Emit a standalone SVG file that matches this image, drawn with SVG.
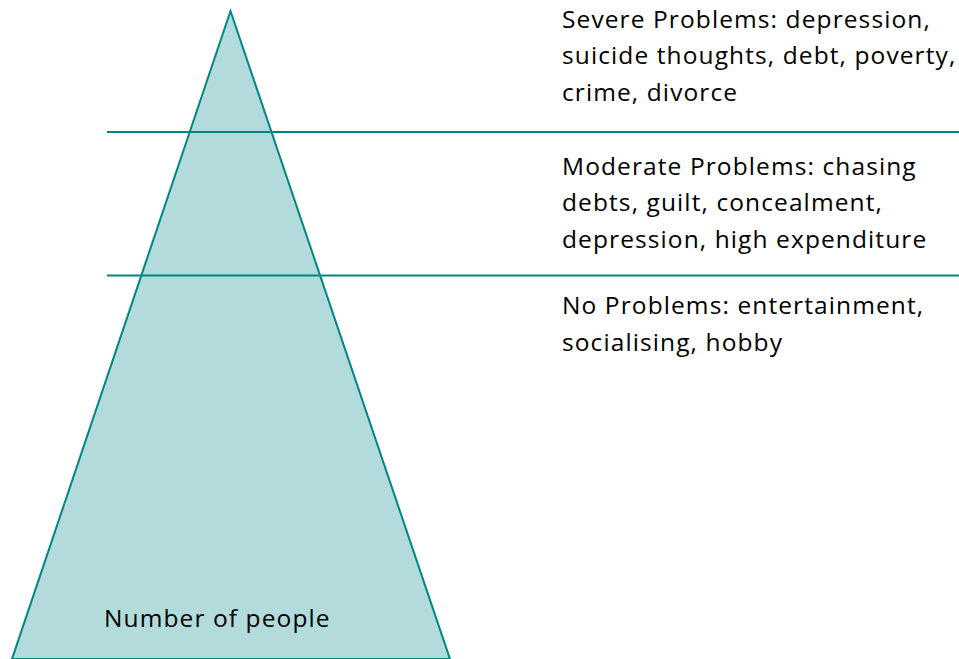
<svg xmlns="http://www.w3.org/2000/svg" width="959" height="659" viewBox="0 0 959 659">
<style>
.t{font-family:"Open Sans","Noto Sans","DejaVu Sans",sans-serif;font-size:24.5px;letter-spacing:1.1px;fill:#000}
.ln{stroke:#008585;stroke-width:2;fill:none}
</style>
<rect width="959" height="659" fill="#fff"/>
<g id="pyramid">
<polygon points="230.5,11 12,659 450,659" fill="#b3dbdb" stroke="#008585" stroke-width="2"/>
<text class="t" x="104" y="627">Number of people</text>
</g>
<g id="connectors">
<line class="ln" x1="107" y1="132" x2="959" y2="132"/>
<line class="ln" x1="107" y1="275.5" x2="959" y2="275.5"/>
</g>
<g id="severe">
<text class="t" x="562" y="28">Severe Problems: depression,</text>
<text class="t" x="562" y="64">suicide thoughts, debt, poverty,</text>
<text class="t" x="562" y="101">crime, divorce</text>
</g>
<g id="moderate">
<text class="t" x="562" y="175">Moderate Problems: chasing</text>
<text class="t" x="562" y="211">debts, guilt, concealment,</text>
<text class="t" x="562" y="248">depression, high expenditure</text>
</g>
<g id="none">
<text class="t" x="562" y="314">No Problems: entertainment,</text>
<text class="t" x="562" y="351">socialising, hobby</text>
</g>
</svg>
